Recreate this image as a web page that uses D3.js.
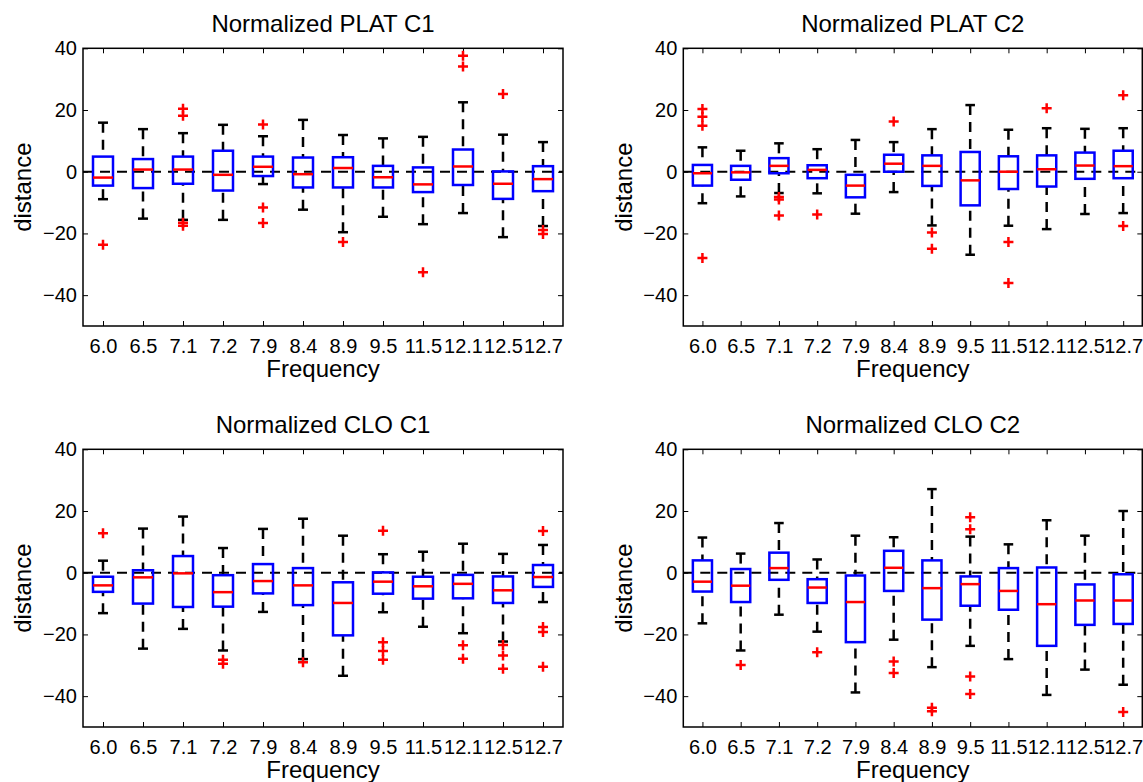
<!DOCTYPE html>
<html>
<head>
<meta charset="utf-8">
<script src="https://cdn.jsdelivr.net/npm/d3@7"></script>
<style>
  body { margin: 0; background: #fff; }
  text { font-family: "Liberation Sans", Arial, Helvetica, sans-serif; fill: #000; }
</style>
</head>
<body>
<div id="chart"></div>
<script>
// frequency categories (x tick labels)
const freqLabels = ["6.0", "6.5", "7.1", "7.2", "7.9", "8.4", "8.9", "9.5", "11.5", "12.1", "12.5", "12.7"];
const yTicks = [-40, -20, 0, 20, 40];

// Normalized PLAT C1
const platC1Low = [-8.9, -15.2, -15.6, -15.6, -4.0, -12.3, -19.6, -14.6, -17.0, -13.4, -21.2, -17.6];
const platC1Q1  = [-4.5, -5.3, -3.9, -6.1, -1.4, -5.1, -5.1, -5.1, -6.6, -4.3, -8.8, -6.3];
const platC1Med = [-1.9, 0.7, 0.7, -1.0, 1.6, -0.8, 1.2, -1.8, -4.1, 1.7, -3.9, -2.4];
const platC1Q3  = [4.9, 4.1, 4.9, 6.8, 4.9, 4.6, 4.7, 1.9, 1.4, 7.2, 0.1, 1.8];
const platC1High = [15.9, 13.8, 12.5, 15.2, 11.5, 16.8, 11.9, 10.8, 11.3, 22.5, 12.0, 9.6];
const platC1Out = [[-23.7], [], [20.4, 18.1, -16.5, -17.5], [], [15.3, -11.6, -16.6], [], [-22.8], [], [-32.6], [37.6, 34.1], [25.2], [-18.9, -20.2]];

// Normalized PLAT C2
const platC2Low = [-10.2, -8.0, -6.9, -7.0, -13.6, -6.6, -17.4, -26.9, -17.5, -18.6, -13.7, -13.4];
const platC2Q1  = [-4.5, -2.6, -0.5, -2.1, -8.3, 0.0, -4.6, -10.9, -5.6, -4.8, -2.3, -2.1];
const platC2Med = [-0.5, -0.2, 1.9, 0.6, -4.5, 2.6, 1.9, -2.8, 0.0, 0.8, 2.0, 1.8];
const platC2Q3  = [2.2, 1.9, 4.4, 2.1, -1.0, 5.5, 5.3, 6.4, 5.0, 5.3, 6.2, 6.8];
const platC2High = [7.9, 6.8, 9.2, 7.3, 10.3, 9.6, 13.8, 21.6, 13.6, 14.1, 13.9, 14.1];
const platC2Out = [[20.3, 17.8, 14.9, -28.0], [], [-8.2, -9.0, -14.2], [-13.9], [], [16.3], [-19.7, -25.0], [], [-22.8, -36.1], [20.6], [], [24.8, -17.6]];

// Normalized CLO C1
const cloC1Low = [-13.1, -24.6, -18.2, -25.2, -12.7, -28.0, -33.4, -12.8, -17.5, -19.6, -22.3, -9.5];
const cloC1Q1  = [-6.2, -10.0, -11.1, -11.0, -6.7, -10.5, -20.3, -6.8, -8.4, -8.3, -9.8, -4.6];
const cloC1Med = [-4.1, -1.5, -0.2, -6.3, -2.7, -4.1, -9.8, -2.9, -4.4, -3.6, -5.7, -1.4];
const cloC1Q3  = [-1.3, 0.8, 5.4, -0.8, 2.8, 1.5, -3.1, 0.1, -1.3, -0.7, -1.2, 2.5];
const cloC1High = [3.9, 14.3, 18.2, 8.0, 14.2, 17.5, 12.0, 6.0, 6.8, 9.4, 6.1, 9.0];
const cloC1Out = [[12.8], [], [], [-28.2, -29.5], [], [-29.0], [], [13.6, -22.5, -25.4, -28.2], [], [-23.5, -27.9], [-23.4, -26.8, -31.1], [13.5, -17.6, -19.2, -30.5]];

// Normalized CLO C2
const cloC2Low = [-16.4, -25.2, -13.6, -19.1, -38.8, -21.7, -30.6, -23.7, -28.0, -39.6, -31.4, -36.3];
const cloC2Q1  = [-6.1, -9.5, -2.3, -9.8, -22.5, -5.9, -15.2, -10.7, -12.0, -23.7, -16.9, -16.6];
const cloC2Med = [-2.9, -4.2, 1.5, -4.8, -9.5, 1.6, -5.0, -3.7, -5.9, -10.2, -9.0, -9.0];
const cloC2Q3  = [4.0, 1.2, 6.5, -2.1, -0.9, 7.1, 4.0, -1.2, 1.5, 1.7, -3.8, -0.5];
const cloC2High = [11.4, 6.2, 16.1, 4.3, 12.0, 11.5, 27.1, 11.7, 9.2, 17.0, 12.0, 20.0];
const cloC2Out = [[], [-29.9], [], [-25.8], [], [-28.8, -32.5], [-43.8, -44.9], [18.0, 14.1, -33.6, -39.3], [], [], [], [-45.1]];

const width = 1143;
const height = 782;

const svg = d3.select("#chart").append("svg")
    .attr("width", width)
    .attr("height", height);

// panel frames: left, top, width, height
const panels = [
  { title: "Normalized PLAT C1", box: [83, 48.3, 480, 277.7],
    lo: platC1Low, q1: platC1Q1, med: platC1Med, q3: platC1Q3, hi: platC1High, out: platC1Out },
  { title: "Normalized PLAT C2", box: [683.3, 48.3, 459, 277.7],
    lo: platC2Low, q1: platC2Q1, med: platC2Med, q3: platC2Q3, hi: platC2High, out: platC2Out },
  { title: "Normalized CLO C1", box: [83, 449.3, 480, 277.7],
    lo: cloC1Low, q1: cloC1Q1, med: cloC1Med, q3: cloC1Q3, hi: cloC1High, out: cloC1Out },
  { title: "Normalized CLO C2", box: [683.3, 449.3, 459, 277.7],
    lo: cloC2Low, q1: cloC2Q1, med: cloC2Med, q3: cloC2Q3, hi: cloC2High, out: cloC2Out }
];

panels.forEach(drawPanel);

function drawPanel(p) {
  const [left, top, w, h] = p.box;
  const x = d3.scaleLinear().domain([0.5, 12.5]).range([left, left + w]);
  const y = d3.scaleLinear().domain([-50, 40]).range([top + h, top]);
  const unit = x(2) - x(1);
  const hw = unit * 0.25;   // half box width
  const cw = unit * 0.125;  // half cap width
  const idx = d3.range(12);

  const g = svg.append("g");

  // axes (ticks pointing inward)
  const xb = g.append("g").attr("transform", `translate(0,${top + h})`)
      .call(d3.axisBottom(x).tickValues(d3.range(1, 13))
        .tickFormat((d, i) => freqLabels[i]).tickSizeInner(-5).tickSizeOuter(0).tickPadding(13));
  const xt = g.append("g").attr("transform", `translate(0,${top})`)
      .call(d3.axisTop(x).tickValues(d3.range(1, 13)).tickFormat("").tickSizeInner(-5).tickSizeOuter(0));
  const yl = g.append("g").attr("transform", `translate(${left},0)`)
      .call(d3.axisLeft(y).tickValues(yTicks).tickSizeInner(-5).tickSizeOuter(0).tickPadding(6));
  const yr = g.append("g").attr("transform", `translate(${left + w},0)`)
      .call(d3.axisRight(y).tickValues(yTicks).tickFormat("").tickSizeInner(-5).tickSizeOuter(0));

  [xb, xt, yl, yr].forEach(a => {
    a.select(".domain").remove();
    a.selectAll("line").attr("stroke", "#000").attr("stroke-width", 1);
    a.selectAll("text").style("font-size", "20px").attr("fill", "#000");
  });

  // zero reference line
  g.append("line")
    .attr("x1", left).attr("x2", left + w)
    .attr("y1", y(0)).attr("y2", y(0))
    .attr("stroke", "#000").attr("stroke-width", 2)
    .attr("stroke-dasharray", "10,7");

  // whiskers
  g.selectAll(".wup").data(idx).enter().append("line")
    .attr("x1", i => x(i + 1)).attr("x2", i => x(i + 1))
    .attr("y1", i => y(p.hi[i])).attr("y2", i => y(p.q3[i]))
    .attr("stroke", "#000").attr("stroke-width", 2.5).attr("stroke-dasharray", "10,7");
  g.selectAll(".wdn").data(idx).enter().append("line")
    .attr("x1", i => x(i + 1)).attr("x2", i => x(i + 1))
    .attr("y1", i => y(p.lo[i])).attr("y2", i => y(p.q1[i]))
    .attr("stroke", "#000").attr("stroke-width", 2.5).attr("stroke-dasharray", "10,7");

  // caps
  g.selectAll(".cup").data(idx).enter().append("line")
    .attr("x1", i => x(i + 1) - cw).attr("x2", i => x(i + 1) + cw)
    .attr("y1", i => y(p.hi[i])).attr("y2", i => y(p.hi[i]))
    .attr("stroke", "#000").attr("stroke-width", 2.5);
  g.selectAll(".cdn").data(idx).enter().append("line")
    .attr("x1", i => x(i + 1) - cw).attr("x2", i => x(i + 1) + cw)
    .attr("y1", i => y(p.lo[i])).attr("y2", i => y(p.lo[i]))
    .attr("stroke", "#000").attr("stroke-width", 2.5);

  // boxes
  g.selectAll(".bx").data(idx).enter().append("rect")
    .attr("x", i => x(i + 1) - hw)
    .attr("y", i => y(p.q3[i]))
    .attr("width", hw * 2)
    .attr("height", i => y(p.q1[i]) - y(p.q3[i]))
    .attr("fill", "none").attr("stroke", "#0000ff").attr("stroke-width", 2.5);

  // medians
  g.selectAll(".md").data(idx).enter().append("line")
    .attr("x1", i => x(i + 1) - hw).attr("x2", i => x(i + 1) + hw)
    .attr("y1", i => y(p.med[i])).attr("y2", i => y(p.med[i]))
    .attr("stroke", "#ff0000").attr("stroke-width", 2.5);

  // outliers as "+"
  const pts = [];
  p.out.forEach((arr, i) => arr.forEach(v => pts.push({ i: i, v: v })));
  const s = 5;
  g.selectAll(".ol").data(pts).enter().append("path")
    .attr("d", d => {
      const cx = x(d.i + 1), cy = y(d.v);
      return `M${cx - s},${cy}H${cx + s}M${cx},${cy - s}V${cy + s}`;
    })
    .attr("stroke", "#ff0000").attr("stroke-width", 2.5).attr("fill", "none");

  // frame
  g.append("rect")
    .attr("x", left).attr("y", top).attr("width", w).attr("height", h)
    .attr("fill", "none").attr("stroke", "#000").attr("stroke-width", 1.5);

  // titles and labels
  g.append("text")
    .attr("x", left + w / 2).attr("y", top - 16.6)
    .attr("text-anchor", "middle").style("font-size", "24px")
    .text(p.title);
  g.append("text")
    .attr("x", left + w / 2).attr("y", top + h + 51)
    .attr("text-anchor", "middle").style("font-size", "24px")
    .text("Frequency");
  g.append("text")
    .attr("transform", `translate(${left - 51.6},${top + h / 2}) rotate(-90)`)
    .attr("text-anchor", "middle").style("font-size", "24px")
    .text("distance");
}
</script>
</body>
</html>
